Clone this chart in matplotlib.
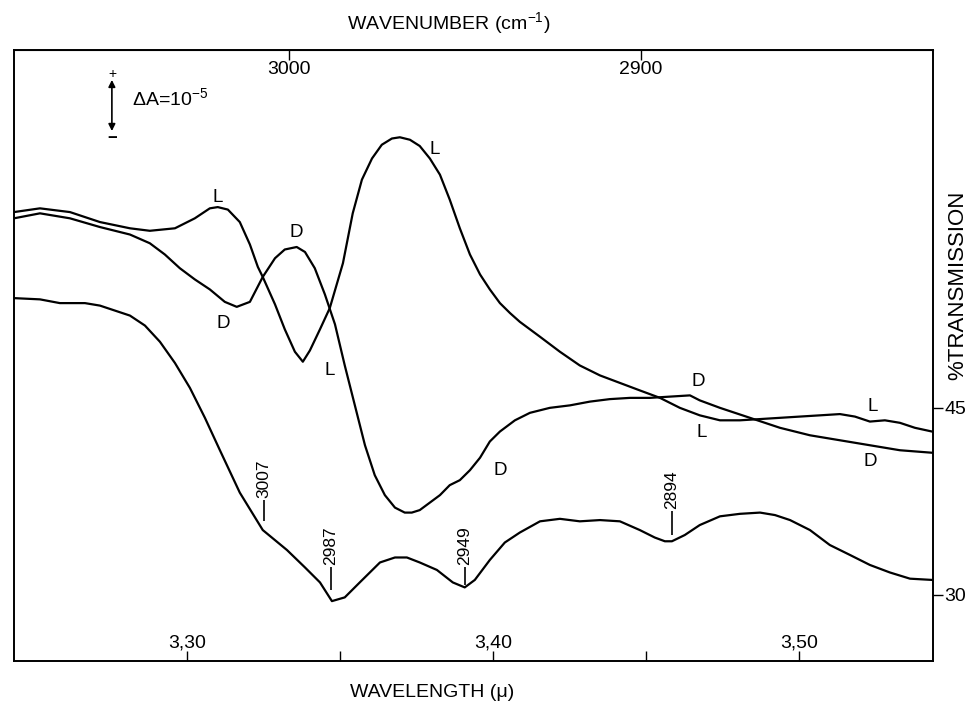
import numpy as np
import matplotlib
matplotlib.use('Agg')
import matplotlib.pyplot as plt

plt.rcParams['font.family'] = ['Liberation Sans', 'DejaVu Sans']
plt.rcParams['mathtext.default'] = 'regular'

# Wavelength (micron) and % transmission
wl_L = [3.2435, 3.252, 3.2618, 3.2716, 3.2814, 3.2879, 3.2961, 3.3026, 3.3075, 3.3101,
        3.3134, 3.3173, 3.3206, 3.3232, 3.3248, 3.3288, 3.332, 3.3353, 3.3379, 3.3402,
        3.3435, 3.3467, 3.351, 3.3542, 3.3572, 3.3605, 3.3637, 3.367, 3.3696, 3.3729,
        3.3761, 3.3794, 3.3827, 3.3859, 3.3892, 3.3925, 3.3958, 3.399, 3.4023, 3.4056,
        3.4088, 3.4154, 3.4219, 3.4284, 3.435, 3.4415, 3.448, 3.4546, 3.4611, 3.4676,
        3.4742, 3.4807, 3.4873, 3.4938, 3.5003, 3.5069, 3.5134, 3.5183, 3.5232, 3.5281,
        3.533, 3.5379, 3.5435]
tr_L = [60.7, 61.0, 60.7, 59.9, 59.4, 59.2, 59.4, 60.2, 61.0, 61.1,
        60.9, 59.9, 58.1, 56.3, 55.5, 53.3, 51.3, 49.5, 48.7, 49.6,
        51.3, 53.0, 56.6, 60.6, 63.3, 65.0, 66.1, 66.6, 66.7, 66.5,
        66.0, 65.0, 63.7, 61.7, 59.4, 57.3, 55.7, 54.5, 53.4, 52.6,
        51.9, 50.7, 49.5, 48.4, 47.6, 47.0, 46.4, 45.8, 45.0, 44.4,
        44.0, 44.0, 44.1, 44.2, 44.3, 44.4, 44.5, 44.3, 43.9, 44.0,
        43.8, 43.4, 43.1]

wl_D = [3.2435, 3.252, 3.2618, 3.2716, 3.2814, 3.2879, 3.2928, 3.2977, 3.3026, 3.3075,
        3.3124, 3.3163, 3.3206, 3.3248, 3.3288, 3.332, 3.3359, 3.3386, 3.3418, 3.3451,
        3.3484, 3.3516, 3.3549, 3.3582, 3.3614, 3.3647, 3.368, 3.3712, 3.3735, 3.3761,
        3.3794, 3.3827, 3.3859, 3.3892, 3.3925, 3.3958, 3.399, 3.4023, 3.4072, 3.4121,
        3.4186, 3.4252, 3.4317, 3.4382, 3.4448, 3.4513, 3.4578, 3.4644, 3.4676, 3.4742,
        3.484, 3.4938, 3.5036, 3.5134, 3.5232, 3.533, 3.5435]
tr_D = [60.2, 60.6, 60.2, 59.5, 58.9, 58.2, 57.3, 56.2, 55.3, 54.5,
        53.5, 53.1, 53.5, 55.5, 57.0, 57.7, 57.9, 57.5, 56.2, 54.1,
        51.7, 48.4, 45.2, 42.0, 39.6, 38.0, 37.0, 36.6, 36.6, 36.8,
        37.4, 38.0, 38.8, 39.2, 40.0, 41.0, 42.3, 43.1, 44.0, 44.6,
        45.0, 45.2, 45.5, 45.7, 45.8, 45.8, 45.9, 46.0, 45.6, 45.0,
        44.2, 43.4, 42.8, 42.4, 42.0, 41.6, 41.4]

wl_R = [3.2435, 3.252, 3.2585, 3.2667, 3.2716, 3.2814, 3.2863, 3.2912, 3.2961, 3.301,
        3.3059, 3.3108, 3.3173, 3.3248, 3.3327, 3.3386, 3.3435, 3.3474, 3.3516, 3.3565,
        3.3631, 3.368, 3.3719, 3.3761, 3.3817, 3.3869, 3.3908, 3.3941, 3.399, 3.4039,
        3.4088, 3.4154, 3.4219, 3.4284, 3.435, 3.4415, 3.448, 3.4529, 3.4562, 3.4585,
        3.4627, 3.4676, 3.4742, 3.4807, 3.4873, 3.4922, 3.4971, 3.5036, 3.5101, 3.5167,
        3.5232, 3.5297, 3.5363, 3.5435]
tr_R = [53.8, 53.7, 53.4, 53.4, 53.2, 52.4, 51.6, 50.3, 48.6, 46.6,
        44.2, 41.6, 38.2, 35.2, 33.6, 32.2, 31.0, 29.5, 29.8, 31.0,
        32.6, 33.0, 33.0, 32.6, 32.0, 31.0, 30.6, 31.2, 32.8, 34.2,
        35.0, 35.9, 36.1, 35.9, 36.0, 35.9, 35.2, 34.6, 34.3, 34.3,
        34.8, 35.6, 36.3, 36.5, 36.6, 36.4, 36.0, 35.2, 34.0, 33.2,
        32.4, 31.8, 31.3, 31.2]

# band labels on the lower trace (cm-1)
band_names = ['3007', '2987', '2949', '2894']
band_wl = [3.3252, 3.3470, 3.3908, 3.4585]
band_lo = [35.9, 30.4, 30.8, 34.8]
band_hi = [37.6, 32.2, 32.2, 36.7]

# L / D curve tags
tag_text = ['L', 'D', 'D', 'L', 'L', 'D', 'D', 'L', 'L', 'D']
tag_wl = [3.3101, 3.3359, 3.3118, 3.3467, 3.3810, 3.4023, 3.4670, 3.4683, 3.5242, 3.5232]
tag_tr = [61.9, 59.1, 51.8, 48.0, 65.7, 40.0, 47.1, 43.0, 45.1, 40.7]

fig = plt.figure(figsize=(9.69, 7.07), dpi=100)
ax = fig.add_axes([0.0144, 0.0651, 0.9484, 0.8642])

for wl, tr in [(wl_L, tr_L), (wl_D, tr_D), (wl_R, tr_R)]:
    ax.plot(wl, tr, color='black', lw=1.6, solid_joinstyle='round')

ax.set_xlim(3.2435, 3.5438)
ax.set_ylim(24.7, 73.7)

for s in ax.spines.values():
    s.set_linewidth(1.4)

# bottom: wavelength, ticks and labels inside
ax.set_xticks([3.30, 3.35, 3.40, 3.45, 3.50])
ax.set_xticklabels(['3,30', '', '3,40', '', '3,50'])
ax.tick_params(axis='x', direction='in', length=7, width=1, labelsize=14, pad=-19)

# right: % transmission
ax.yaxis.tick_right()
ax.set_yticks([30, 45])
ax.tick_params(axis='y', direction='out', length=7, width=1, labelsize=14, pad=1)

# top: wavenumber
top = ax.secondary_xaxis('top', functions=(lambda x: 1e4 / x, lambda x: 1e4 / x))
top.set_xticks([3000, 2900])
top.tick_params(direction='in', length=7, width=1, labelsize=14, pad=-20)

for name, x, lo, hi in zip(band_names, band_wl, band_lo, band_hi):
    ax.vlines(x, lo, hi, color='black', lw=1.2)
    ax.text(x, hi + 0.2, name, rotation=90, ha='center', va='bottom', fontsize=12.5)

for t, x, y in zip(tag_text, tag_wl, tag_tr):
    ax.text(x, y, t, ha='center', va='center', fontsize=13.5)

# delta A scale marker
ax.annotate('', xy=(3.2755, 71.3), xytext=(3.2755, 67.2),
            arrowprops=dict(arrowstyle='<|-|>', color='black', lw=1.2,
                            mutation_scale=10, shrinkA=0, shrinkB=0))
ax.text(3.2755, 71.8, '+', ha='center', va='center', fontsize=10)
ax.text(3.2755, 66.6, '−', ha='center', va='center', fontsize=12, fontweight='bold')
ax.text(3.2820, 69.8, 'ΔA=10$^{-5}$', ha='left', va='center', fontsize=14)

fig.text(0.463, 0.968, 'WAVENUMBER (cm$^{-1}$)', ha='center', va='center', fontsize=14)
fig.text(0.446, 0.020, 'WAVELENGTH (μ)', ha='center', va='center', fontsize=14)
fig.text(0.988, 0.597, '%TRANSMISSION', rotation=90, ha='center', va='center', fontsize=16)

fig.savefig('out.png', dpi=100)
